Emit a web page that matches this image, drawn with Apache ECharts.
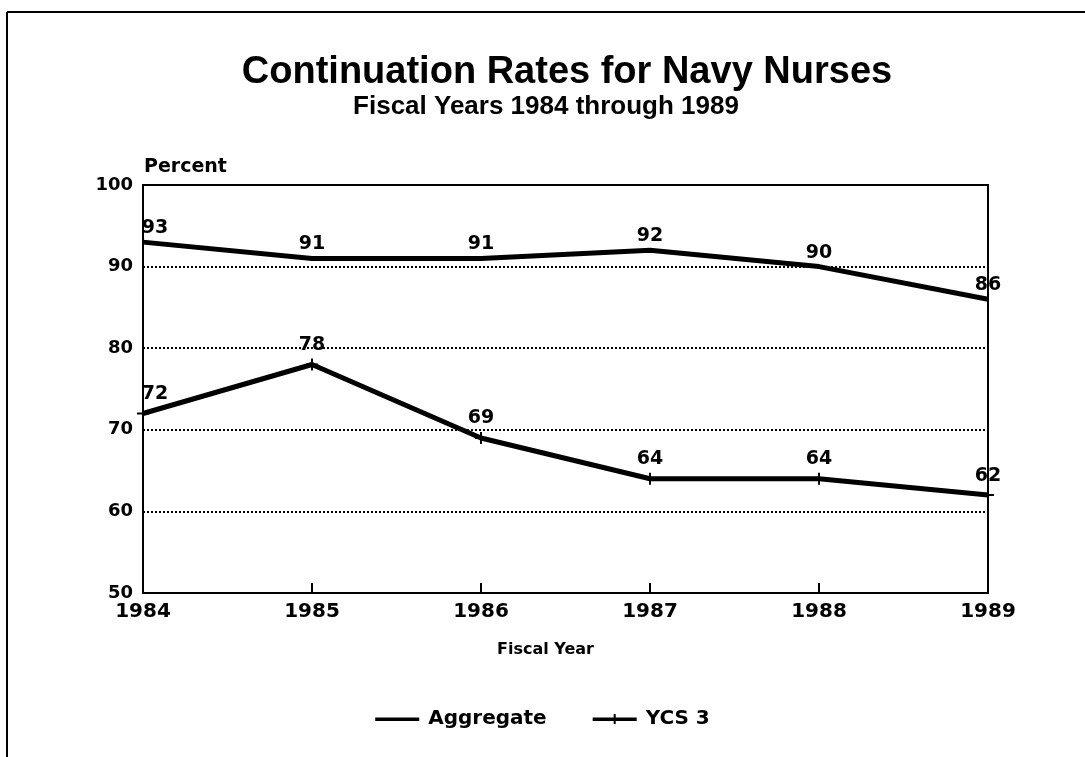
<!DOCTYPE html>
<html>
<head>
<meta charset="utf-8">
<script src="https://cdn.jsdelivr.net/npm/echarts@6/dist/echarts.min.js"></script>
<style>
html,body{margin:0;padding:0;background:#fff;}
#chart{width:1085px;height:757px;}
</style>
</head>
<body>
<div id="chart"></div>
<script>
const years = ['1984','1985','1986','1987','1988','1989'];
const aggregate = [93, 91, 91, 92, 90, 86];
const ycs3 = [72, 78, 69, 64, 64, 62];
const yTicks = [50, 60, 70, 80, 90, 100];

const titleText = 'Continuation Rates for Navy Nurses';
const subtitleText = 'Fiscal Years 1984 through 1989';
const yAxisName = 'Percent';
const xAxisName = 'Fiscal Year';
const seriesNames = ['Aggregate', 'YCS 3'];

const FONT = 'Liberation Sans, Arial, sans-serif';
const BOLD = 'DejaVu Sans, Liberation Sans, sans-serif';

const chart = echarts.init(document.getElementById('chart'), null, {renderer: 'canvas'});
const plusPath = 'path://M4.2,0 h1.6 v10 h-1.6 z M0,4.2 h10 v1.6 h-10 z';
const legendLine = 'path://M0,0h0.01v0.01h-0.01z M0,4.5h44v3.5h-44z M43.99,11.99h0.01v0.01h-0.01z';
const legendPlus = 'path://M0,0h0.01v0.01h-0.01z M0,4.5h44v3.5h-44z M21,1h2v10h-2z M43.99,11.99h0.01v0.01h-0.01z';

const labelStyle = {
  show: true, position: 'top', distance: 4,
  color: '#000', fontFamily: BOLD, fontWeight: 'bold', fontSize: 19
};

chart.setOption({
  backgroundColor: '#fff',
  animation: false,
  title: [
    {text: titleText, left: 562, textAlign: 'center', top: 49,
     textStyle: {fontFamily: FONT, fontWeight: 'bold', fontSize: 38, color: '#000'}},
    {text: subtitleText, left: 541, textAlign: 'center', top: 89,
     textStyle: {fontFamily: FONT, fontWeight: 'bold', fontSize: 26, color: '#000'}}
  ],
  grid: {left: 143, right: 97, top: 185, bottom: 164, show: true,
         borderColor: '#000', borderWidth: 2, backgroundColor: 'transparent'},
  legend: {
    bottom: 23, left: 'center', itemGap: 46, itemWidth: 44, itemHeight: 12,
    textStyle: {fontFamily: BOLD, fontWeight: 'bold', fontSize: 20, color: '#000', padding: [0, 0, 0, 4]},
    data: [{name: seriesNames[0], icon: legendLine}, {name: seriesNames[1], icon: legendPlus}]
  },
  xAxis: {
    type: 'category', data: years, boundaryGap: false,
    name: xAxisName, nameLocation: 'middle', nameGap: 49,
    nameTextStyle: {fontFamily: BOLD, fontWeight: 'bold', fontSize: 16, color: '#000', padding: [0, 40, 0, 0]},
    axisLine: {lineStyle: {color: '#000', width: 2}},
    axisTick: {show: true, inside: true, length: 10, lineStyle: {color: '#000', width: 2}},
    axisLabel: {color: '#000', fontFamily: BOLD, fontWeight: 'bold', fontSize: 20, margin: 9},
    splitLine: {show: false}
  },
  yAxis: {
    type: 'value', min: yTicks[0], max: yTicks[yTicks.length - 1], interval: 10,
    name: yAxisName, nameLocation: 'end', nameGap: 8,
    nameTextStyle: {fontFamily: BOLD, fontWeight: 'bold', fontSize: 19, color: '#000', align: 'left', padding: [0, 0, 0, 1]},
    axisLine: {show: true, lineStyle: {color: '#000', width: 2}},
    axisTick: {show: false},
    axisLabel: {color: '#000', fontFamily: BOLD, fontWeight: 'bold', fontSize: 18, margin: 10},
    splitLine: {show: true, lineStyle: {color: '#000', width: 2, type: [2, 2]}}
  },
  graphic: [
    {type: 'line', shape: {x1: 7, y1: 12, x2: 1085, y2: 12}, style: {stroke: '#000', lineWidth: 2}},
    {type: 'line', shape: {x1: 7, y1: 12, x2: 7, y2: 757}, style: {stroke: '#000', lineWidth: 2}}
  ],
  labelLayout: function (params) {
    if (params.dataIndex === 0) return {dx: 12};
    return {};
  },
  series: [
    {name: seriesNames[0], type: 'line', data: aggregate, symbol: 'circle', symbolSize: 1,
     lineStyle: {color: '#000', width: 5}, itemStyle: {color: '#000'},
     label: labelStyle},
    {name: seriesNames[1], type: 'line', data: ycs3, symbol: plusPath, symbolSize: 12,
     showSymbol: true,
     lineStyle: {color: '#000', width: 5}, itemStyle: {color: '#000'},
     label: labelStyle}
  ]
});
</script>
</body>
</html>
